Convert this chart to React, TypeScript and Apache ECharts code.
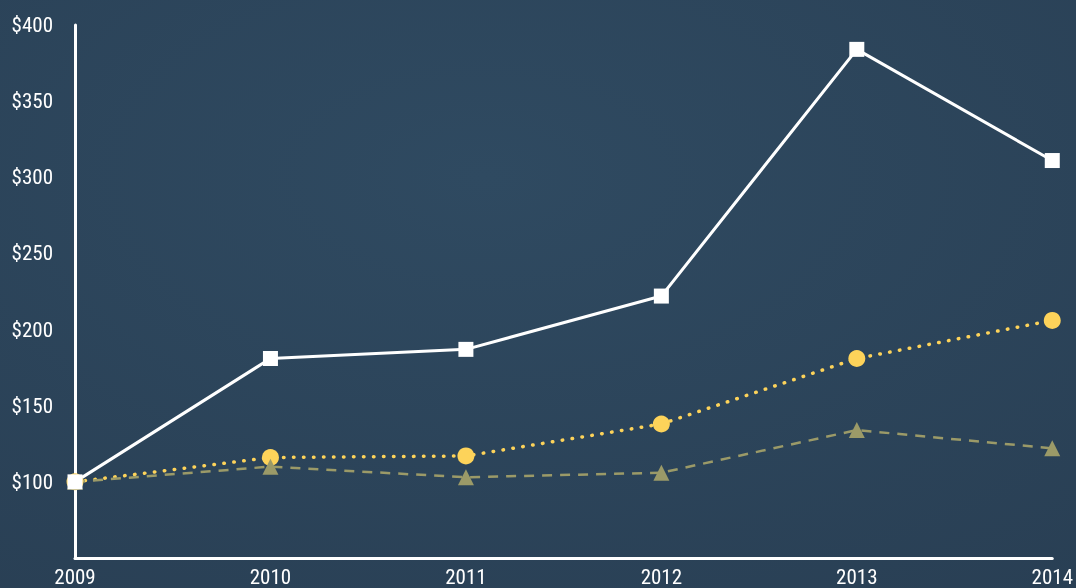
import React, { useEffect, useRef } from "react";
import * as echarts from "echarts";

const years = ["2009", "2010", "2011", "2012", "2013", "2014"];
const whiteSeries = [100, 181, 187, 222, 384, 311];
const yellowSeries = [100, 116, 117, 138, 181, 206];
const oliveSeries = [100, 110, 103, 106, 134, 122];

const FONT = "'Roboto Condensed', 'Liberation Sans Narrow', 'Arial Narrow', Roboto, sans-serif";

export default function App() {
  const ref = useRef<HTMLDivElement>(null);
  useEffect(() => {
    if (!ref.current) return;
    const chart = echarts.init(ref.current, null, { renderer: "svg" });
    chart.setOption({
      animation: false,
      backgroundColor: {
        type: "radial",
        x: 0.45,
        y: 0.3,
        r: 0.9,
        colorStops: [
          { offset: 0, color: "#2f4a61" },
          { offset: 1, color: "#293f54" },
        ],
      },
      grid: { left: 75, right: 21, top: 25, bottom: 30 },
      xAxis: {
        type: "category",
        data: years,
        boundaryGap: false,
        axisLine: { lineStyle: { color: "#ffffff", width: 3 } },
        axisTick: { show: false },
        axisLabel: { color: "#ffffff", fontSize: 21, fontFamily: FONT, margin: 8 },
        splitLine: { show: false },
      },
      yAxis: {
        type: "value",
        min: 50,
        max: 400,
        interval: 50,
        axisLine: { show: true, lineStyle: { color: "#ffffff", width: 3 } },
        axisTick: { show: false },
        splitLine: { show: false },
        axisLabel: {
          color: "#ffffff",
          fontSize: 21,
          fontFamily: FONT,
          margin: 22,
          formatter: (v: number) => (v === 50 ? "" : "$" + v),
        },
      },
      series: [
        {
          type: "line",
          data: yellowSeries,
          symbol: "circle",
          symbolSize: 17,
          lineStyle: { color: "#fdd35a", width: 3.5, type: [0.5, 9.5], cap: "round" },
          itemStyle: { color: "#fdd35a" },
        },
        {
          type: "line",
          data: oliveSeries,
          symbol: "triangle",
          symbolSize: 16,
          lineStyle: { color: "#9b9a68", width: 2.5, type: [10, 8] },
          itemStyle: { color: "#9b9a68" },
        },
        {
          type: "line",
          data: whiteSeries,
          symbol: "rect",
          symbolSize: 15,
          lineStyle: { color: "#ffffff", width: 3 },
          itemStyle: { color: "#ffffff" },
        },
      ],
    });
    return () => chart.dispose();
  }, []);
  return (
    <div
      ref={ref}
      style={{ position: "fixed", left: 0, top: 0, width: 1076, height: 588 }}
    />
  );
}
